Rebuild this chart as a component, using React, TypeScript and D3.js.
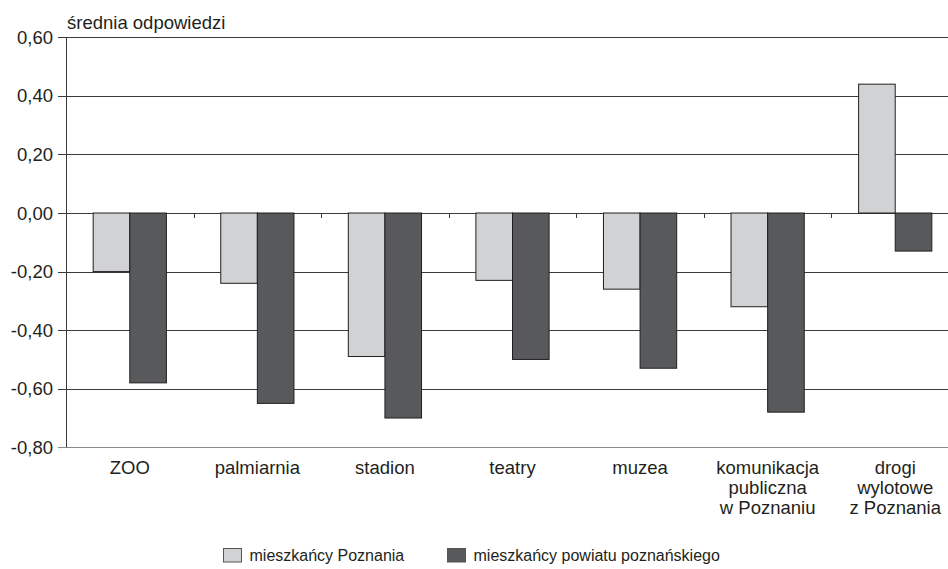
import React from "react";
import * as d3 from "d3";

const categories: string[][] = [
  ["ZOO"],
  ["palmiarnia"],
  ["stadion"],
  ["teatry"],
  ["muzea"],
  ["komunikacja", "publiczna", "w Poznaniu"],
  ["drogi", "wylotowe", "z Poznania"],
];
const seriesNames = ["mieszkańcy Poznania", "mieszkańcy powiatu poznańskiego"];
const poznan = [-0.2, -0.24, -0.49, -0.23, -0.26, -0.32, 0.44];
const powiat = [-0.58, -0.65, -0.7, -0.5, -0.53, -0.68, -0.13];
const yTicks = [0.6, 0.4, 0.2, 0, -0.2, -0.4, -0.6, -0.8];
const yTitle = "średnia odpowiedzi";

const W = 948;
const H = 569;
const FONT = "'Liberation Sans', Arial, sans-serif";
const FS = 18.5;
const COLORS = ["#d1d2d4", "#58595b"];
const INK = "#231f20";

export default function App() {
  const left = 66;
  const right = 959;
  const top = 37.3;
  const bottom = 447.3;
  const x = d3
    .scaleBand<number>()
    .domain(d3.range(categories.length))
    .range([left, right])
    .paddingInner(0)
    .paddingOuter(0);
  const y = d3.scaleLinear().domain([-0.8, 0.6]).range([bottom, top]);
  const barW = x.bandwidth() * 0.287;
  const fmt = (v: number) => d3.format(".2f")(v).replace(".", ",").replace("−", "-");
  const series = [poznan, powiat];
  const legendX = [223.5, 447.5];

  return (
    <svg
      width={W}
      height={H}
      style={{ position: "absolute", left: 0, top: 0, background: "#fff" }}
      fontFamily={FONT}
      fontSize={FS}
    >
      <rect x={0} y={0} width={W} height={H} fill="#fff" />
      {/* gridlines */}
      {yTicks.map((t) => (
        <line
          key={"g" + t}
          x1={left - 8}
          x2={W}
          y1={Math.round(y(t)) + 0.5}
          y2={Math.round(y(t)) + 0.5}
          stroke={t === -0.8 ? "#8a8a8a" : "#3a3a3a"}
          strokeWidth={1}
        />
      ))}
      {/* y axis */}
      <line x1={left + 0.5} x2={left + 0.5} y1={y(0.6)} y2={y(-0.8)} stroke="#3a3a3a" strokeWidth={1} />
      {/* category ticks at zero */}
      {d3.range(1, categories.length).map((i) => (
        <line
          key={"ct" + i}
          x1={Math.round(x(i)!) + 0.5}
          x2={Math.round(x(i)!) + 0.5}
          y1={y(0)}
          y2={y(0) + 5}
          stroke="#3a3a3a"
          strokeWidth={1}
        />
      ))}
      {/* bars */}
      {categories.map((_, i) => {
        const cx = x(i)! + x.bandwidth() / 2;
        return series.map((s, j) => {
          const v = s[i];
          const x0 = cx - barW + j * barW;
          const y0 = Math.min(y(v), y(0));
          const h = Math.abs(y(v) - y(0));
          return (
            <rect
              key={`b${i}-${j}`}
              x={x0}
              y={y0}
              width={barW}
              height={h}
              fill={COLORS[j]}
              stroke={INK}
              strokeWidth={1}
            />
          );
        });
      })}
      {/* y tick labels */}
      {yTicks.map((t) => (
        <text key={"l" + t} x={53} y={y(t) + 6.6} textAnchor="end" fill={INK}>
          {fmt(t)}
        </text>
      ))}
      <text x={67} y={29} fill={INK}>
        {yTitle}
      </text>
      {/* category labels */}
      {categories.map((lines, i) => {
        const cx = x(i)! + x.bandwidth() / 2;
        return lines.map((ln, k) => (
          <text key={`c${i}-${k}`} x={cx} y={473.5 + k * 20} textAnchor="middle" fill={INK}>
            {ln}
          </text>
        ));
      })}
      {/* legend */}
      {seriesNames.map((name, j) => {
        const lx = legendX[j];
        return (
          <g key={"lg" + j}>
            <rect x={lx} y={548.5} width={18} height={13.5} fill={COLORS[j]} stroke="#555" strokeWidth={1} />
            <text x={lx + 26} y={561} fontSize={16} fill={INK}>
              {name}
            </text>
          </g>
        );
      })}
    </svg>
  );
}
